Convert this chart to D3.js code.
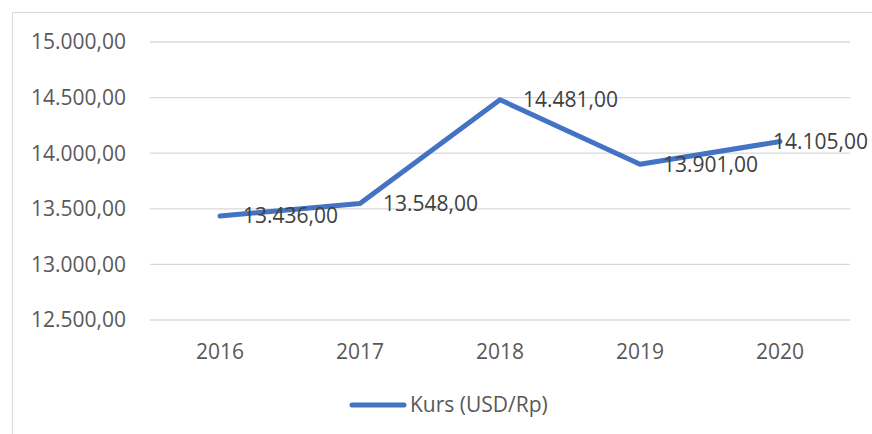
<html>
<head>
  <meta charset="utf-8">
  <script src="https://d3js.org/d3.v7.min.js"></script>
  <style>
    body { margin: 0; background: white; }
    text { font-family: "Open Sans", sans-serif; }
  </style>
  <script>
    var years = ["2016", "2017", "2018", "2019", "2020"];
    var kurs = [13436, 13548, 14481, 13901, 14105];
    var yTicks = [12500, 13000, 13500, 14000, 14500, 15000];
    var seriesName = "Kurs (USD/Rp)";

    // 1.234,00 style numbers
    function idr( v ) {
      var s = d3.format( ",.2f" )( v );
      return s.replace( /,/g, "#" ).replace( ".", "," ).replace( /#/g, "." );
    }

    function makeChart() {
      var svg = d3.select( "#chart" );
      var W = 872, H = 434;
      var blue = "#4472c4";
      var fs = 21;

      svg.append( "rect" ).attr( "x", 12.5 ).attr( "y", 12.5 )
          .attr( "width", 900 ).attr( "height", 500 )
          .attr( "fill", "white" ).attr( "stroke", "#d9d9d9" );

      var x = d3.scaleBand().domain( years ).range( [150, 850] );
      var y = d3.scaleLinear().domain( [12500, 15000] ).range( [320, 42] );

      svg.append( "g" ).selectAll( "line" ).data( yTicks ).enter().append( "line" )
          .attr( "x1", 150 ).attr( "x2", 850 )
          .attr( "y1", d => y(d) ).attr( "y2", d => y(d) )
          .attr( "stroke", "#d9d9d9" ).attr( "stroke-width", 1.3 );

      svg.append( "g" ).selectAll( "text" ).data( yTicks ).enter().append( "text" )
          .attr( "x", 126 ).attr( "y", d => y(d) )
          .attr( "dy", "0.35em" ).attr( "text-anchor", "end" )
          .attr( "font-size", fs ).attr( "fill", "#595959" )
          .text( idr );

      svg.append( "g" ).selectAll( "text" ).data( years ).enter().append( "text" )
          .attr( "x", d => x(d) + x.bandwidth()/2 ).attr( "y", 352 )
          .attr( "dy", "0.35em" ).attr( "text-anchor", "middle" )
          .attr( "font-size", fs ).attr( "fill", "#595959" )
          .text( d => d );

      var line = d3.line()
          .x( (d,i) => x(years[i]) + x.bandwidth()/2 )
          .y( d => y(d) );

      svg.append( "path" ).datum( kurs ).attr( "d", line )
          .attr( "fill", "none" ).attr( "stroke", blue )
          .attr( "stroke-width", 5 ).attr( "stroke-linejoin", "round" )
          .attr( "stroke-linecap", "round" );

      svg.append( "g" ).selectAll( "text" ).data( kurs ).enter().append( "text" )
          .attr( "x", (d,i) => x(years[i]) + x.bandwidth()/2 + 23 )
          .attr( "y", d => y(d) )
          .attr( "dy", "0.35em" )
          .attr( "font-size", fs ).attr( "fill", "#404040" )
          .text( idr )
          .each( function() {
            var w = this.getComputedTextLength();
            var x0 = +this.getAttribute( "x" );
            if( x0 + w > W - 4 ) this.setAttribute( "x", W - 4 - w );
          } );

      var lg = svg.append( "g" ).attr( "transform", "translate(352,405)" );
      lg.append( "line" ).attr( "x1", 0 ).attr( "x2", 52 )
          .attr( "stroke", blue ).attr( "stroke-width", 5 )
          .attr( "stroke-linecap", "round" );
      lg.append( "text" ).attr( "x", 58 ).attr( "dy", "0.35em" )
          .attr( "font-size", fs ).attr( "fill", "#595959" )
          .text( seriesName );
    }
  </script>
</head>
<body onload="makeChart()">
  <svg id="chart" width="872" height="434"></svg>
</body>
</html>
